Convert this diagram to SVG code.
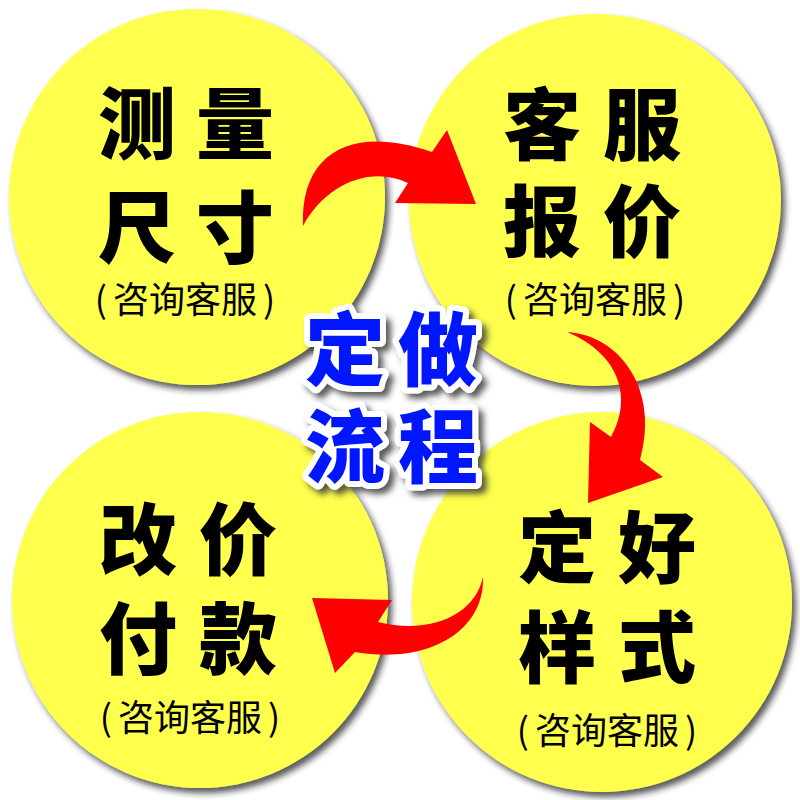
<svg xmlns="http://www.w3.org/2000/svg" width="800" height="800" viewBox="0 0 800 800">
<defs>
<filter id="shadow" x="-10%" y="-10%" width="125%" height="125%">
<feDropShadow dx="4" dy="5" stdDeviation="3" flood-color="#222" flood-opacity="0.75"/>
</filter>
<filter id="tshadow" x="-20%" y="-20%" width="150%" height="150%">
<feDropShadow dx="5" dy="5" stdDeviation="3" flood-color="#333" flood-opacity="0.8"/>
</filter>
<style>
.c{fill:#ffff4d;filter:url(#shadow)}
.big{font-family:"Noto Sans CJK SC","Noto Sans",sans-serif;font-weight:900;font-size:78px;fill:#000;text-anchor:middle}
.sub{font-family:"Noto Sans CJK SC","Noto Sans",sans-serif;font-weight:400;font-size:36px;fill:#000;text-anchor:middle}
.ctr{font-family:"Noto Sans CJK SC","Noto Sans",sans-serif;font-weight:900;font-size:80px;fill:#0018ff;stroke:#fff;stroke-width:12;stroke-linejoin:round;paint-order:stroke;text-anchor:middle;filter:url(#tshadow)}
.arr{fill:#ff0000}
</style>
</defs>
<rect width="800" height="800" fill="#fff"/>
<g id="node-measure">
<circle class="c" cx="197" cy="197" r="188"/>
<text class="big" x="137" y="153">测</text>
<text class="big" x="235" y="153">量</text>
<text class="big" x="137" y="257">尺</text>
<text class="big" x="235" y="257">寸</text>
<text class="sub" x="185" y="313">(<tspan dx="6">咨询客服</tspan><tspan dx="6">)</tspan></text>
</g>
<g id="node-quote">
<circle class="c" cx="595" cy="200" r="186"/>
<text class="big" x="542" y="154">客</text>
<text class="big" x="642" y="154">服</text>
<text class="big" x="542" y="251">报</text>
<text class="big" x="642" y="251">价</text>
<text class="sub" x="595" y="313">(<tspan dx="6">咨询客服</tspan><tspan dx="6">)</tspan></text>
</g>
<g id="node-pay">
<circle class="c" cx="200" cy="600" r="188"/>
<text class="big" x="138" y="569">改</text>
<text class="big" x="238" y="569">价</text>
<text class="big" x="138" y="668">付</text>
<text class="big" x="238" y="668">款</text>
<text class="sub" x="190" y="731">(<tspan dx="6">咨询客服</tspan><tspan dx="6">)</tspan></text>
</g>
<g id="node-style">
<circle class="c" cx="602" cy="602" r="190"/>
<text class="big" x="557" y="577">定</text>
<text class="big" x="657" y="577">好</text>
<text class="big" x="557" y="677">样</text>
<text class="big" x="657" y="677">式</text>
<text class="sub" x="607" y="744">(<tspan dx="6">咨询客服</tspan><tspan dx="6">)</tspan></text>
</g>
<g id="connectors">
<path class="arr" d="M303,226 C300,150 355,125 432,152 L447,130 L476,204 L395,203 L408,183 C370,165 325,185 303,226 Z"/>
<path class="arr" d="M567,332 C620,335 660,390 640,460 L663,477 L588,503 L590,422 L611,437 C632,400 622,355 567,332 Z"/>
<path class="arr" d="M483,577 C485,630 430,665 355,652 L335,673 L312,598 L392,600 L378,622 C430,635 475,615 483,577 Z"/>
</g>
<g id="title">
<text class="ctr" x="345" y="379">定</text>
<text class="ctr" x="438" y="379">做</text>
<text class="ctr" x="345" y="476">流</text>
<text class="ctr" x="438" y="476">程</text>
</g>
</svg>
